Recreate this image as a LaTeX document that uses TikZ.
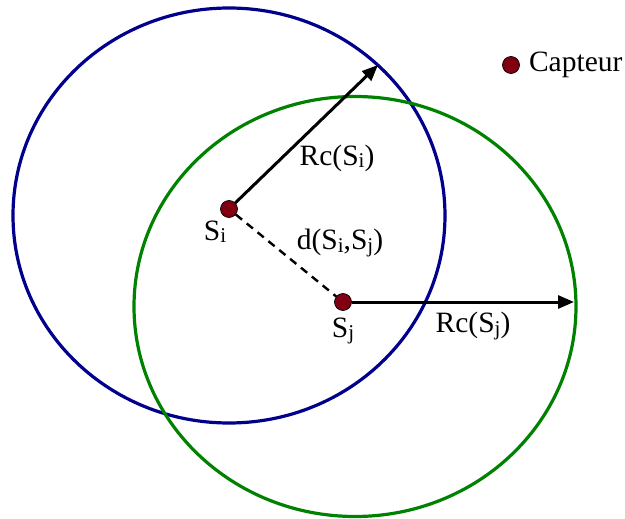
\documentclass[tikz,border=0pt]{standalone}
\usepackage{fontspec}
\setmainfont{Liberation Serif}
\usetikzlibrary{arrows.meta,positioning}
\definecolor{cnavy}{RGB}{0,0,140}
\definecolor{cgreen}{RGB}{0,130,0}
\definecolor{cdot}{RGB}{128,0,18}
\newcommand{\idx}[1]{\raisebox{-0.15ex}{\fontsize{21}{21}\selectfont #1}}

\begin{document}
\begin{tikzpicture}[x=1pt, y=-1pt, every node/.style={font=\rmfamily\fontsize{29.5}{34}\selectfont},
  sensor/.style={circle, draw=black, line width=0.7pt, fill=cdot, minimum size=17pt, inner sep=0pt},
  rangering/.style={line width=3.2pt},
  radius arrow/.style={-{Triangle[length=16pt,width=13pt]}, line width=3pt}]
\useasboundingbox (0,0) rectangle (625,519);
% Ranges
\draw[rangering, cnavy] (229,215.5) ellipse [x radius=216pt, y radius=207.5pt];
\draw[rangering, cgreen] (355,306.5) ellipse [x radius=221pt, y radius=210pt];
% Sensors
\node[sensor] (si) at (229,209) {};
\node[sensor] (sj) at (343,302) {};
\coordinate (rci) at (378,65);
\coordinate (rcj) at (574,302);
% Links
\draw[radius arrow] (si) -- (rci);
\draw[radius arrow] (sj) -- (rcj);
\draw[line width=2.4pt, dash pattern=on 8pt off 6pt] (si) -- (sj);
% Labels
\node (lsi) at (215,232) {S\idx{i}};
\node (lsj) at (343,331) {S\idx{j}};
\node (lrci) at (337,158) {Rc(S\idx{i})};
\node (lrcj) at (473,326) {Rc(S\idx{j})};
\node (ldist) at (340,243) {d(S\idx{i},S\idx{j})};
% Legend
\node[sensor] (leg) at (511,65) {};
\node[right=9pt of leg, inner sep=0pt] (legtxt) {Capteur};
\end{tikzpicture}
\end{document}
